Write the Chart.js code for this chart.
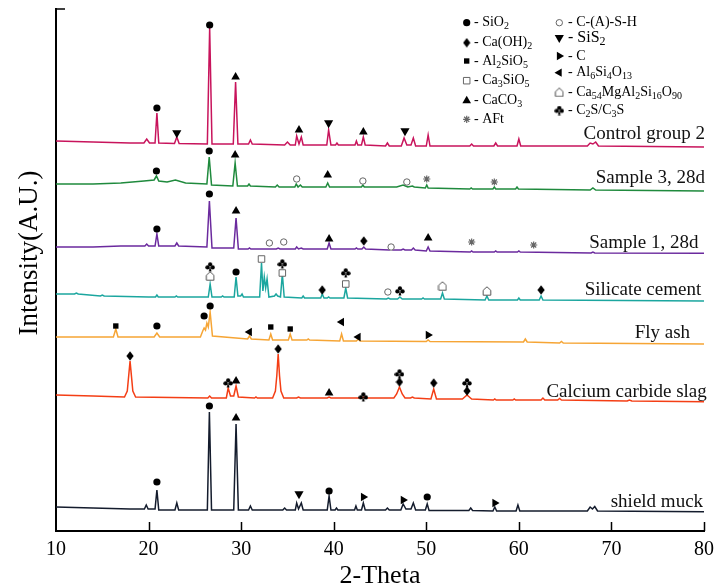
<!DOCTYPE html>
<html>
<head>
<meta charset="utf-8">
<script src="https://cdn.jsdelivr.net/npm/chart.js@4.4.1/dist/chart.umd.min.js"></script>
<style>
  html, body { margin: 0; padding: 0; background: #fff; }
  canvas { display: block; }
</style>
</head>
<body>
<canvas id="xrd" width="715" height="588"></canvas>
<script>
// XRD patterns, [2-theta, intensity]; intensity already includes each curve's vertical offset
const controlGroup2 = [[10,390],[14,389],[18,388],[19.5,388],[19.8,392],[20.1,388],[20.7,388],[20.9,418],[21.1,388],[22.8,387.5],[23.05,394],[23.3,387.5],[26.35,387],[26.6,503],[26.85,387],[29.15,387],[29.4,449],[29.65,387],[30.8,387],[31.0,391],[31.2,387],[34.7,386],[35.0,389],[35.3,386],[35.85,386],[36.0,395],[36.25,387],[36.5,394],[36.7,386],[39.25,386],[39.45,401],[39.7,386],[40.2,386],[40.35,388],[40.5,386],[42.3,386],[42.45,390],[42.6,386],[43.0,386],[43.2,394],[43.4,386],[45.6,385],[45.8,388],[46.0,385],[47.3,385],[47.6,393],[47.9,386],[48.35,386],[48.6,393],[48.85,385],[50.0,385],[50.2,396],[50.4,385],[54.7,385],[54.9,387],[55.1,385],[57.3,385],[57.5,388],[57.7,385],[59.8,385],[60.0,392],[60.2,385],[67.4,385],[67.7,388],[68.0,387],[68.3,389],[68.6,385],[80,384]];
const sample3 = [[10,347],[14,347],[17,348],[19.5,350],[20.6,351],[20.85,355],[21.1,350],[22.0,349],[22.9,351],[24.0,348],[26.3,347],[26.55,374],[26.8,346],[29.1,345],[29.35,368],[29.6,345],[30.7,345],[30.85,347],[31.0,345],[33.7,344],[33.9,346],[34.1,344],[35.8,344],[35.95,347],[36.15,344],[36.4,346],[36.6,344],[39.15,344],[39.35,348],[39.55,344],[43.0,344],[43.15,346],[43.3,344],[46.8,344],[47.5,346],[48.0,344],[48.5,345],[48.7,344],[49.9,343],[50.05,346],[50.2,343],[54.7,342],[54.85,343],[55.0,342],[57.2,342],[57.35,344],[57.5,342],[59.65,342],[59.8,344],[59.95,342],[67.7,341],[68.0,343],[68.3,341],[80,340]];
const sample1 = [[10,284],[14,284],[17,285],[19.6,285],[19.8,287],[20.0,285],[20.7,285],[20.9,297],[21.1,285],[22.85,285],[23.05,288],[23.25,285],[26.3,284],[26.57,330],[26.85,283],[29.2,283],[29.45,313],[29.7,282],[30.75,282],[30.9,283],[31.05,282],[33.8,282],[34.0,283],[34.2,282],[35.85,282],[36.0,284],[36.2,282],[36.5,283],[36.7,282],[39.3,282],[39.5,288],[39.7,282],[42.3,282],[42.45,283],[42.6,282],[43.05,282],[43.25,284],[43.45,282],[46.0,281],[46.2,282],[46.4,281],[47.3,281],[47.5,282],[47.7,281],[48.4,281],[48.6,283],[48.8,281],[50.0,280],[50.2,284],[50.4,280],[54.75,279],[54.9,280],[55.05,279],[57.35,279],[57.5,280],[57.65,279],[59.85,279],[60.0,280],[60.15,279],[67.8,278],[68.0,279],[68.2,278],[80,277.7]];
const silicateCement = [[10,237],[12.0,237],[12.2,238],[12.4,237],[14.8,235],[15.0,236],[15.2,235],[20.0,234],[20.75,234],[20.9,236],[21.05,234],[22.85,234],[23.0,235],[23.15,234],[26.45,234],[26.65,247],[26.85,234],[27.85,234],[28.0,235],[28.15,234],[29.25,234],[29.45,254],[29.65,235],[29.95,235],[30.1,237],[30.25,234],[32.0,234],[32.2,268],[32.35,240],[32.5,254],[32.65,243],[32.8,252],[33.0,234],[33.6,235],[33.77,237],[33.95,235],[34.25,234],[34.45,257],[34.65,234],[36.55,233],[36.7,235],[36.85,233],[38.6,233],[38.76,237],[38.95,233],[39.3,233],[39.45,234],[39.6,233],[41.1,233],[41.3,243],[41.5,233],[45.7,232],[45.9,233],[46.1,232],[46.9,232],[47.15,234],[47.4,232],[49.5,232],[49.65,233],[49.8,232],[51.55,232],[51.75,238],[51.95,232],[56.35,231],[56.55,235],[56.75,231],[59.85,231],[60.0,233],[60.15,231],[62.2,231],[62.4,235],[62.6,231],[80,230]];
const flyAsh = [[10,194],[16.2,194],[16.46,202],[16.7,194],[20.6,194],[20.9,198],[21.2,194],[25.6,194],[25.85,200],[26.0,203],[26.15,201],[26.3,208],[26.45,204],[26.65,219],[26.9,195],[30.7,192],[30.9,195],[31.1,192],[33.0,191],[33.2,197],[33.4,191],[35.1,191],[35.3,197],[35.5,191],[37.1,191],[37.25,192],[37.4,191],[40.65,190],[40.85,197],[41.05,190],[42.45,190],[42.65,192],[42.85,190],[50.0,189.5],[50.2,191],[50.4,189.5],[60.5,189],[60.7,192],[60.9,189],[64.4,188],[64.6,189.5],[64.8,188],[80,187]];
const carbideSlag = [[10,136],[14,135],[17.4,134],[17.7,140],[17.85,155],[18.0,170],[18.15,155],[18.3,140],[18.6,134],[26.4,133],[26.6,135],[26.8,133],[28.4,133],[28.6,143],[28.85,135],[29.2,135],[29.45,145],[29.7,134],[31.45,133],[31.6,134],[31.75,133],[33.4,133],[33.7,140],[33.85,155],[34.0,177],[34.15,155],[34.3,140],[34.6,133],[36.0,133],[36.2,134],[36.4,133],[39.3,133],[39.5,134],[39.7,133],[43.0,133],[43.2,134],[43.4,133],[46.5,133],[46.8,137],[47.1,144],[47.4,137],[47.7,133],[48.3,133],[48.5,134],[48.7,133],[50.5,132],[50.8,142],[51.1,132],[53.9,132],[54.15,134],[54.4,136],[54.65,134],[54.9,132],[57.25,131],[57.4,132],[57.55,131],[59.35,131],[59.5,132],[59.65,131],[62.4,131],[62.6,133],[62.8,131],[64.2,131],[64.4,132.5],[64.6,131],[71.7,130],[71.95,131],[72.2,130],[80,129.3]];
const shieldMuck = [[10,24],[14,23],[18,22],[19.55,22],[19.75,26],[19.95,22],[20.7,22],[20.9,41],[21.1,21],[22.85,21],[23.05,28],[23.25,21],[26.35,21],[26.57,119],[26.8,21],[29.2,21],[29.45,107],[29.7,21],[30.8,21],[31.0,25],[31.2,21],[34.5,21],[34.7,23],[34.9,21],[35.85,21],[36.0,28],[36.2,22],[36.5,28],[36.7,21],[39.3,21],[39.5,35],[39.7,21],[40.15,21],[40.3,23],[40.45,21],[42.25,21],[42.4,25],[42.55,21],[43.0,21],[43.2,28],[43.4,21],[45.6,21],[45.8,23],[46.0,21],[47.25,21],[47.5,27],[47.8,22],[48.35,22],[48.6,28],[48.85,21],[49.9,21],[50.1,27],[50.3,20.5],[54.6,20.5],[54.8,23],[55.0,20.5],[57.2,20],[57.4,24],[57.6,20],[59.7,20],[59.9,26],[60.1,20],[67.4,20],[67.7,24],[67.95,22],[68.2,24.5],[68.5,20],[80,19.3]];

const seriesNames = ['Control group 2', 'Sample 3, 28d', 'Sample 1, 28d', 'Silicate cement', 'Fly ash', 'Calcium carbide slag', 'shield muck'];

// phase marks above the peaks, [2-theta, intensity]
const sio2Marks = [[20.9,423],[26.6,506],[20.85,360],[26.55,380],[20.9,302],[26.57,337],[29.45,259],[20.9,205],[26.0,215],[26.65,225],[20.9,49],[26.57,125],[39.5,40],[50.1,34]];
const caoh2Marks = [[43.25,290],[38.76,241],[62.4,241],[18.0,175],[34.0,182],[47.1,149],[50.8,148],[54.4,140]];
const al2sio5Marks = [[16.46,205],[33.2,204],[35.3,202]];
const ca3sio5Marks = [[32.2,272],[34.45,258],[41.3,247]];
const caco3Marks = [[29.4,454],[36.25,401],[43.2,399],[29.35,376],[39.35,356],[29.45,320],[39.5,292],[50.2,293],[29.45,150],[39.5,138],[29.45,113]];
const aftMarks = [[50.05,352],[57.35,349],[54.9,289],[61.6,286]];
const cashMarks = [[36.0,352],[43.15,350],[47.9,349],[33.05,288],[34.6,289],[46.2,284],[45.85,239]];
const sis2Marks = [[23.05,398],[39.45,408],[47.7,400],[36.25,37]];
const carbonMarks = [[50.2,196],[43.2,34],[47.5,31],[57.4,28]];
const al6si4o13Marks = [[30.9,199],[40.85,209],[42.65,194]];
const ca54Marks = [[26.65,255],[51.75,245],[56.55,240]];
const c2sMarks = [[26.65,264],[34.45,267],[41.3,258],[47.15,240],[28.6,148],[43.2,134],[47.1,157],[54.4,148]];

const phaseNames = ['- SiO_{2}', '- Ca(OH)_{2}', '- Al_{2}SiO_{5}', '- Ca_{3}SiO_{5}', '- CaCO_{3}', '- AFt',
  '- C-(A)-S-H', '- SiS_{2}', '- C', '- Al_{6}Si_{4}O_{13}', '- Ca_{54}MgAl_{2}Si_{16}O_{90}', '- C_{2}S/C_{3}S'];

const xTicks = [10, 20, 30, 40, 50, 60, 70, 80];

const SERIF = "'Liberation Serif', 'Times New Roman', serif";
const curves = [controlGroup2, sample3, sample1, silicateCement, flyAsh, carbideSlag, shieldMuck];
const colors = ['#c8145c', '#1f8a3d', '#6b2a9e', '#1ba69f', '#f6a535', '#f43e15', '#141c2d'];

// little glyphs the library has no style for
function glyph(w, h, paint) {
  const c = document.createElement('canvas');
  c.width = w; c.height = h;
  paint(c.getContext('2d'));
  return c;
}
const diamond = glyph(8, 10, g => {
  g.fillStyle = '#000';
  g.beginPath(); g.moveTo(4, 0.3); g.lineTo(7.6, 5); g.lineTo(4, 9.7); g.lineTo(0.4, 5); g.closePath(); g.fill();
});
const club = glyph(10, 10, g => {
  g.fillStyle = '#000';
  [[5, 2.4], [2.4, 5.4], [7.6, 5.4]].forEach(p => { g.beginPath(); g.arc(p[0], p[1], 2.1, 0, Math.PI * 2); g.fill(); });
  g.beginPath(); g.moveTo(5, 4); g.lineTo(6.4, 9.6); g.lineTo(3.6, 9.6); g.closePath(); g.fill();
});
const house = glyph(10, 10, g => {
  g.fillStyle = '#fff'; g.strokeStyle = '#555'; g.lineWidth = 1;
  g.beginPath(); g.moveTo(5, 0.8); g.lineTo(8.8, 4.3); g.lineTo(8.8, 9.2); g.lineTo(1.2, 9.2); g.lineTo(1.2, 4.3); g.closePath();
  g.fill(); g.stroke();
});

const phaseStyles = [
  {style: 'circle', r: 3.6, fill: '#000', line: '#000', bw: 0, rot: 0},
  {style: diamond, r: 5, fill: '#000', line: '#000', bw: 0, rot: 0},
  {style: 'rect', r: 3.8, fill: '#000', line: '#000', bw: 0, rot: 0},
  {style: 'rect', r: 4.6, fill: '#fff', line: '#666', bw: 1, rot: 0},
  {style: 'triangle', r: 5, fill: '#000', line: '#000', bw: 0, rot: 0},
  {style: 'star', r: 3.6, fill: '#666', line: '#666', bw: 1.2, rot: 0},
  {style: 'circle', r: 3.2, fill: '#fff', line: '#666', bw: 1, rot: 0},
  {style: 'triangle', r: 5.3, fill: '#000', line: '#000', bw: 0, rot: 180},
  {style: 'triangle', r: 4.8, fill: '#000', line: '#000', bw: 0, rot: 90},
  {style: 'triangle', r: 4.8, fill: '#000', line: '#000', bw: 0, rot: -90},
  {style: house, r: 5, fill: '#fff', line: '#555', bw: 0, rot: 0},
  {style: club, r: 5, fill: '#000', line: '#000', bw: 0, rot: 0}
];
const phaseMarks = [sio2Marks, caoh2Marks, al2sio5Marks, ca3sio5Marks, caco3Marks, aftMarks,
  cashMarks, sis2Marks, carbonMarks, al6si4o13Marks, ca54Marks, c2sMarks];

const datasets = [];
phaseMarks.forEach((marks, i) => {
  const s = phaseStyles[i];
  datasets.push({
    type: 'scatter', label: phaseNames[i], data: marks, order: 0, showLine: false,
    pointStyle: s.style, pointRadius: s.r, pointRotation: s.rot,
    pointBackgroundColor: s.fill, pointBorderColor: s.line, pointBorderWidth: s.bw
  });
});
curves.forEach((c, i) => {
  datasets.push({
    type: 'line', label: seriesNames[i], data: c, order: 1,
    borderColor: colors[i], borderWidth: 1.5, pointRadius: 0, tension: 0, fill: false
  });
});

function richText(ctx, str, x, y, size) {
  const parts = str.split(/(_\{[^}]*\})/);
  let cx = x;
  parts.forEach(p => {
    if (!p) return;
    if (p.startsWith('_{')) {
      const t = p.slice(2, -1);
      ctx.font = Math.round(size * 0.72) + 'px ' + SERIF;
      ctx.fillText(t, cx, y + size * 0.28);
      cx += ctx.measureText(t).width;
    } else {
      ctx.font = size + 'px ' + SERIF;
      ctx.fillText(p, cx, y);
      cx += ctx.measureText(p).width;
    }
  });
}

const frame = {
  id: 'frame',
  afterDraw(chart) {
    const {ctx, scales: {x, y}, chartArea} = chart;
    ctx.save();
    ctx.strokeStyle = '#000';
    ctx.lineWidth = 1.5;
    ctx.beginPath();
    xTicks.slice(1).forEach(v => {
      const px = Math.round(x.getPixelForValue(v)) + 0.5;
      ctx.moveTo(px, chartArea.bottom);
      ctx.lineTo(px, chartArea.bottom - 9);
    });
    const top = y.getPixelForValue(y.max);
    ctx.moveTo(chartArea.left, top);
    ctx.lineTo(chartArea.left + 9, top);
    ctx.stroke();
    // rotated y title
    ctx.fillStyle = '#000';
    ctx.font = '27px ' + SERIF;
    ctx.translate(30, 253);
    ctx.rotate(-Math.PI / 2);
    ctx.textAlign = 'center';
    ctx.textBaseline = 'middle';
    ctx.fillText('Intensity(A.U.)', 0, 0);
    ctx.restore();
  }
};

const curveLabels = {
  id: 'curveLabels',
  afterDatasetsDraw(chart, args, opts) {
    const {ctx, scales: {x, y}} = chart;
    ctx.save();
    ctx.fillStyle = '#111';
    ctx.font = '19px ' + SERIF;
    ctx.textAlign = 'right';
    ctx.textBaseline = 'alphabetic';
    seriesNames.forEach((name, i) => {
      const c = curves[i];
      const endY = y.getPixelForValue(c[c.length - 1][1]);
      ctx.fillText(name, x.getPixelForValue(opts.ends[i]), endY - opts.lift[i]);
    });
    ctx.restore();
  }
};

const phaseKey = {
  id: 'phaseKey',
  afterDraw(chart, args, opts) {
    const {ctx} = chart;
    ctx.save();
    ctx.textBaseline = 'middle';
    ctx.textAlign = 'left';
    phaseNames.forEach((name, i) => {
      const col = i < 6 ? 0 : 1;
      const row = i % 6;
      const s = phaseStyles[i];
      const sy = opts.rows[col][row];
      ctx.fillStyle = s.fill;
      ctx.strokeStyle = s.line;
      ctx.lineWidth = s.bw;
      Chart.helpers.drawPoint(ctx, {pointStyle: s.style, radius: s.r, rotation: s.rot, borderWidth: s.bw}, opts.symX[col], sy);
      ctx.fillStyle = '#000';
      richText(ctx, name, opts.textX[col], sy, i === 7 ? 16 : 14);
    });
    ctx.restore();
  }
};

new Chart(document.getElementById('xrd'), {
  data: {datasets},
  options: {
    responsive: false,
    animation: false,
    devicePixelRatio: 1,
    layout: {padding: {left: 0, right: 11, top: 9, bottom: 0}},
    plugins: {
      legend: {display: false},
      tooltip: {enabled: false},
      curveLabels: {
        ends: [80.1, 80.1, 79.4, 79.7, 78.5, 80.3, 79.9],
        lift: [7.7, 7.7, 5, 5.7, 5.7, 5, 4.4]
      },
      phaseKey: {
        symX: [466.7, 559.3],
        textX: [474, 568],
        rows: [[22.7, 42.7, 61, 80.7, 100.7, 119.3], [22.7, 37.7, 56, 72.7, 92.3, 110.5]]
      }
    },
    scales: {
      x: {
        type: 'linear', min: 10, max: 80,
        afterBuildTicks: s => { s.ticks = xTicks.map(v => ({value: v})); },
        afterFit: s => { s.height = 57; s.paddingLeft = 0; s.paddingRight = 0; },
        grid: {display: false, drawTicks: false},
        border: {display: true, color: '#000', width: 2},
        ticks: {color: '#000', padding: 7, maxRotation: 0, font: {family: SERIF, size: 20}},
        title: {display: true, text: '2-Theta', color: '#000', font: {family: SERIF, size: 26, lineHeight: 1}, padding: {top: 0, bottom: -1}}
      },
      y: {
        type: 'linear', min: 0, max: 522,
        afterFit: s => { s.width = 56; s.paddingTop = 0; s.paddingBottom = 0; },
        grid: {display: false, drawTicks: false},
        border: {display: true, color: '#000', width: 2},
        ticks: {display: false}
      }
    }
  },
  plugins: [frame, curveLabels, phaseKey]
});
</script>
</body>
</html>
